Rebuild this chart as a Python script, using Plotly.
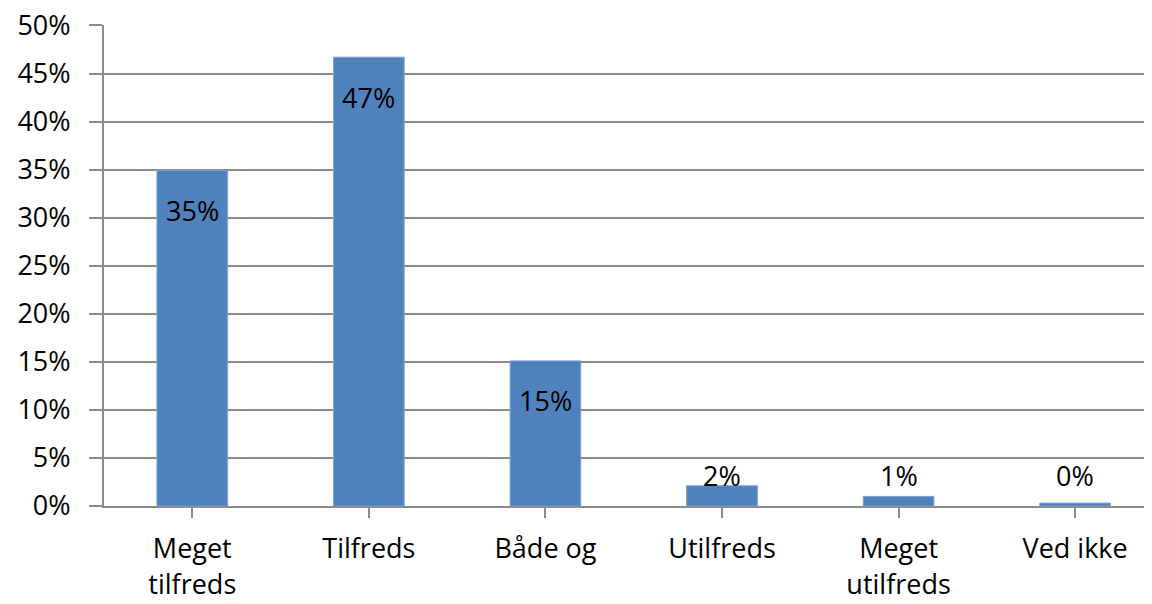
import plotly.graph_objects as go

categories = ["Meget<br>tilfreds", "Tilfreds", "Både og", "Utilfreds", "Meget<br>utilfreds", "Ved ikke"]
values = [34.9, 46.7, 15.1, 2.1, 1.0, 0.3]
y_ticks = [0, 5, 10, 15, 20, 25, 30, 35, 40, 45, 50]
y_tick_labels = [f"{v}%" for v in y_ticks]

FONT = "'Open Sans', Lato, sans-serif"
GRID = "#8c8c8c"
FS = 27

fig = go.Figure()
fig.add_trace(go.Bar(
    x=list(range(len(categories))),
    y=values,
    width=0.4,
    marker=dict(color="#4f81bd", line=dict(color="#7a9fd0", width=1)),
    hoverinfo="skip",
))

for i, v in enumerate(values):
    fig.add_annotation(
        x=i, y=max(v - 4.15, 3.2), text=f"{round(v):.0f}%",
        showarrow=False, yanchor="middle", xanchor="center",
        font=dict(family=FONT, size=FS, color="#000000"),
    )

fig.update_layout(
    width=1136, height=588,
    margin=dict(l=96, r=0, t=17, b=90),
    plot_bgcolor="white", paper_bgcolor="white",
    showlegend=False,
    font=dict(family=FONT, size=FS, color="#000000"),
)
fig.update_xaxes(
    range=[-0.5, 5.39], automargin=False,
    tickmode="array", tickvals=list(range(len(categories))), ticktext=categories,
    tickson="boundaries", ticks="outside", ticklen=10, tickwidth=2, tickcolor=GRID,
    showline=True, linecolor=GRID, linewidth=2,
    showgrid=False, zeroline=False,
    ticklabelstandoff=8,
    tickfont=dict(family=FONT, size=FS),
)
fig.update_yaxes(
    range=[0, 50.05], automargin=False,
    tickmode="array", tickvals=y_ticks, ticktext=y_tick_labels,
    ticks="outside", ticklen=13, tickwidth=2, tickcolor=GRID,
    showline=True, linecolor=GRID, linewidth=2,
    showgrid=True, gridcolor=GRID, gridwidth=2,
    zeroline=False,
    ticklabelstandoff=13,
    ticklabeloverflow="allow",
    tickfont=dict(family=FONT, size=FS),
)

fig.write_html("out.html")
